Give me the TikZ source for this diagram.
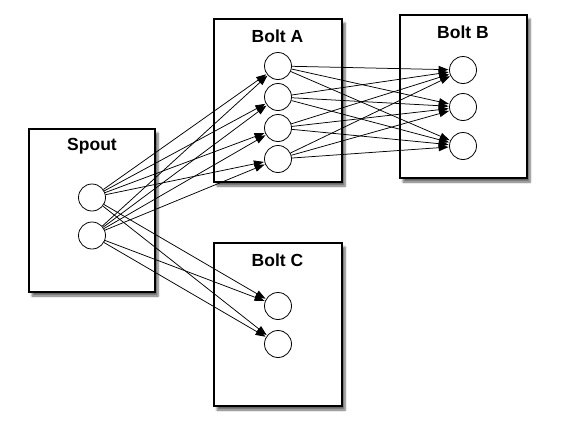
\documentclass[tikz,border=0pt]{standalone}
\usepackage{fontspec}
\setmainfont{Liberation Sans}
\usetikzlibrary{arrows.meta,shadows.blur}
\begin{document}
\begin{tikzpicture}[x=1pt,y=-1pt,
  boxst/.style={draw,line width=1.1pt,fill=white,blur shadow={shadow xshift=3pt,shadow yshift=-4pt,shadow blur steps=6,shadow opacity=60}},
  ttl/.style={font=\bfseries\fontsize{17.5}{17.5}\selectfont},
  task/.style={circle,draw,line width=0.8pt,minimum size=27pt,inner sep=0pt,fill=white},
  flow/.style={line width=0.75pt,-{Triangle[length=10pt,width=7pt]},shorten >=0.5pt}]
\useasboundingbox (0,0) rectangle (563,421);
% boxes
\node[boxst,minimum width=126pt,minimum height=163pt,inner sep=0pt] (spout) at (92,210.5) {};
\node[boxst,minimum width=128pt,minimum height=163pt,inner sep=0pt] (boltA) at (278,100.5) {};
\node[boxst,minimum width=127pt,minimum height=163pt,inner sep=0pt] (boltB) at (463.5,96.5) {};
\node[boxst,minimum width=128pt,minimum height=163pt,inner sep=0pt] (boltC) at (278,324.5) {};
% titles
\node[ttl] (tS) at (92,146) {Spout};
\node[ttl] (tA) at (277.5,36) {Bolt A};
\node[ttl] (tB) at (463,32) {Bolt B};
\node[ttl] (tC) at (277.5,260) {Bolt C};
% tasks
\node[task] (s1) at (92,197.5) {};
\node[task] (s2) at (92,235.5) {};
\node[task] (a1) at (278,66) {};
\node[task] (a2) at (278,97) {};
\node[task] (a3) at (278,128) {};
\node[task] (a4) at (278,159) {};
\node[task] (b1) at (463,70) {};
\node[task] (b2) at (463,107) {};
\node[task] (b3) at (463,146) {};
\node[task] (c1) at (278,306) {};
\node[task] (c2) at (278,344) {};
% connectors
\foreach \s in {s1,s2}{
  \foreach \t in {a1,a2,a3,a4,c1,c2}{
    \draw[flow] (\s) -- (\t);
  }
}
\foreach \s in {a1,a2,a3,a4}{
  \foreach \t in {b1,b2,b3}{
    \draw[flow] (\s) -- (\t);
  }
}
\end{tikzpicture}
\end{document}
